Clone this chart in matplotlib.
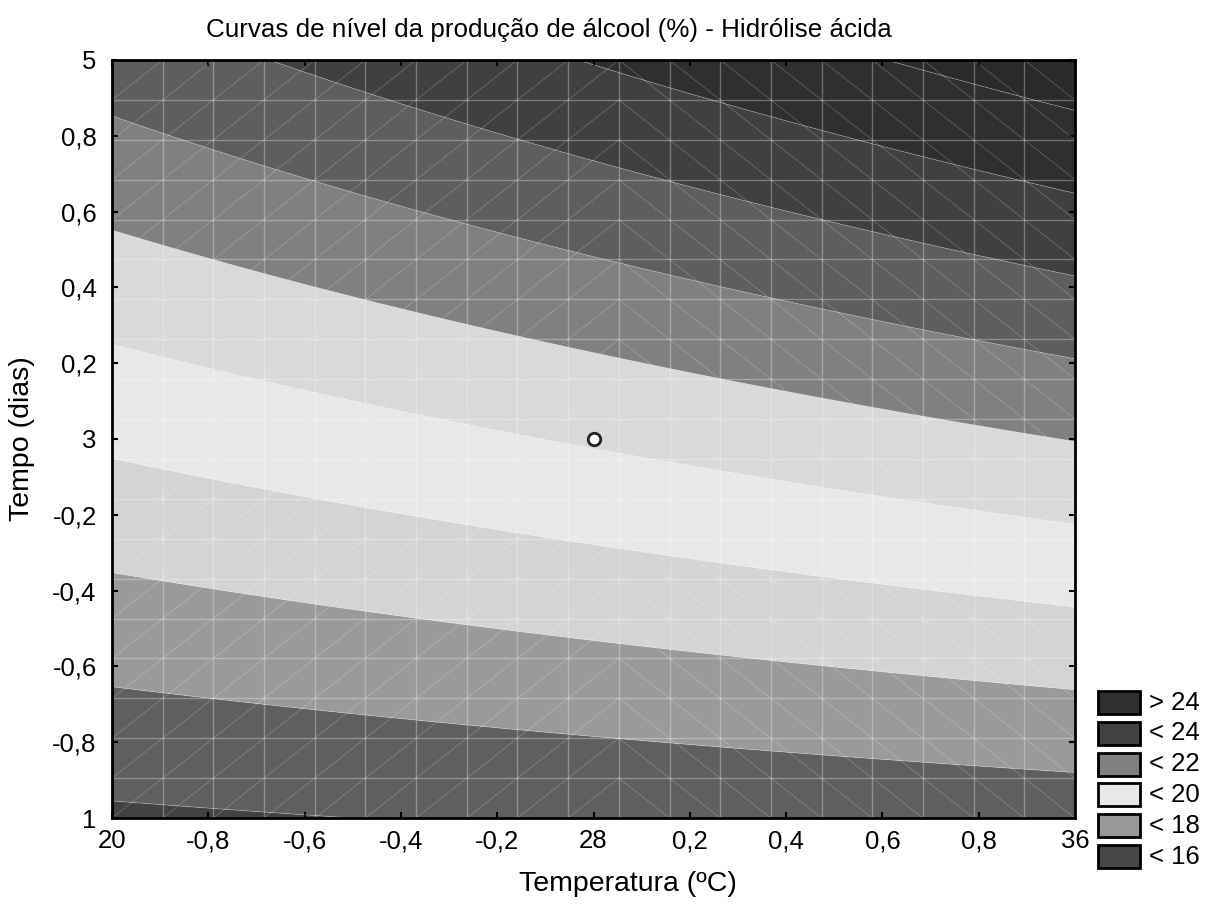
import numpy as np
import matplotlib
matplotlib.use("Agg")
import matplotlib.pyplot as plt
from matplotlib.patches import Rectangle

plt.rcParams["font.family"] = ["Liberation Sans", "DejaVu Sans"]

# ---------------- data ----------------
title = "Curvas de nível da produção de álcool (%) - Hidrólise ácida"
x_label = "Temperatura (ºC)"
y_label = "Tempo (dias)"

x_ticks = [-1.0, -0.8, -0.6, -0.4, -0.2, 0.0, 0.2, 0.4, 0.6, 0.8, 1.0]
x_ticklabels = ["20", "-0,8", "-0,6", "-0,4", "-0,2", "28", "0,2", "0,4", "0,6", "0,8", "36"]
y_ticks = [-1.0, -0.8, -0.6, -0.4, -0.2, 0.0, 0.2, 0.4, 0.6, 0.8, 1.0]
y_ticklabels = ["1", "-0,8", "-0,6", "-0,4", "-0,2", "3", "0,2", "0,4", "0,6", "0,8", "5"]

# fitted response surface (coded units): z = b0 + bT*x + bt*y + bTt*x*y
b0 = 20.10
b_temp = 0.93
b_time = 3.95
b_inter = 0.63

levels = [16, 17, 18, 19, 20, 21, 22, 23, 24, 25]
band_colors = ["#424242", "#5f5f5f", "#9a9a9a", "#d4d4d4", "#e8e8e8",
               "#d9d9d9", "#808080", "#5e5e5e", "#404040", "#2f2f2f", "#2a2a2a"]

legend_labels = ["> 24", "< 24", "< 22", "< 20", "< 18", "< 16"]
legend_colors = ["#2f2f2f", "#414141", "#808080", "#e8e8e8", "#999999", "#474747"]

center_x = [0.0]
center_y = [0.0]

mesh_points = 20
# --------------------------------------

W, H = 1205, 905
fig = plt.figure(figsize=(W / 100, H / 100), dpi=100)
ax = fig.add_axes([112 / W, 1 - 818 / H, (1075 - 112) / W, (818 - 60) / H])

xs = np.linspace(-1, 1, 401)
ys = np.linspace(-1, 1, 401)
X, Y = np.meshgrid(xs, ys)
Z = b0 + b_temp * X + b_time * Y + b_inter * X * Y

all_levels = [Z.min() - 1] + levels + [Z.max() + 1]
ax.contourf(X, Y, Z, levels=all_levels, colors=band_colors, antialiased=True)
ax.contour(X, Y, Z, levels=levels, colors="white", linewidths=0.6, alpha=0.3)

# wireframe mesh
g = np.linspace(-1, 1, mesh_points)
for v in g[1:-1]:
    ax.axvline(v, color="white", lw=1.0, alpha=0.3, zorder=3)
    ax.axhline(v, color="white", lw=1.0, alpha=0.3, zorder=3)
half = mesh_points // 2
for k in range(mesh_points - 1):
    for j in range(mesh_points - 1):
        if k < half:
            ax.plot([g[k], g[k + 1]], [g[j], g[j + 1]], color="white", lw=0.7, alpha=0.2, zorder=3)
        else:
            ax.plot([g[k], g[k + 1]], [g[j + 1], g[j]], color="white", lw=0.7, alpha=0.2, zorder=3)

ax.plot(center_x, center_y, "o", ms=9, mfc="white", mec="#222222", mew=2, zorder=5)

ax.set_xlim(-1, 1)
ax.set_ylim(-1, 1)
ax.set_xticks(x_ticks)
ax.set_xticklabels(x_ticklabels)
ax.set_yticks(y_ticks)
ax.set_yticklabels(y_ticklabels)
ax.tick_params(direction="in", length=4, width=1.5, top=True, right=True,
               labelsize=18.5, colors="black")
ax.tick_params(axis="x", pad=8)
ax.tick_params(axis="y", pad=11)
for s in ax.spines.values():
    s.set_linewidth(2)
    s.set_color("black")
    s.set_zorder(6)

fig.text(549 / W, 1 - 30 / H, title, ha="center", va="center", fontsize=18.7)
fig.text(628 / W, 1 - 884 / H, x_label, ha="center", va="center", fontsize=20.5)
fig.text(22 / W, 1 - 439 / H, y_label, ha="center", va="center", fontsize=20.5, rotation=90)

# legend
box_x, box_w, box_h = 1098, 42, 23
row_top = 691
row_step = 30.8
for i, (lab, col) in enumerate(zip(legend_labels, legend_colors)):
    top = row_top + i * row_step
    fig.add_artist(Rectangle((box_x / W, 1 - (top + box_h) / H), box_w / W, box_h / H,
                             transform=fig.transFigure, facecolor=col,
                             edgecolor="black", linewidth=2))
    fig.text(1149 / W, 1 - (top + box_h / 2) / H, lab, ha="left", va="center", fontsize=18.5)

fig.savefig("out.png", dpi=100)
